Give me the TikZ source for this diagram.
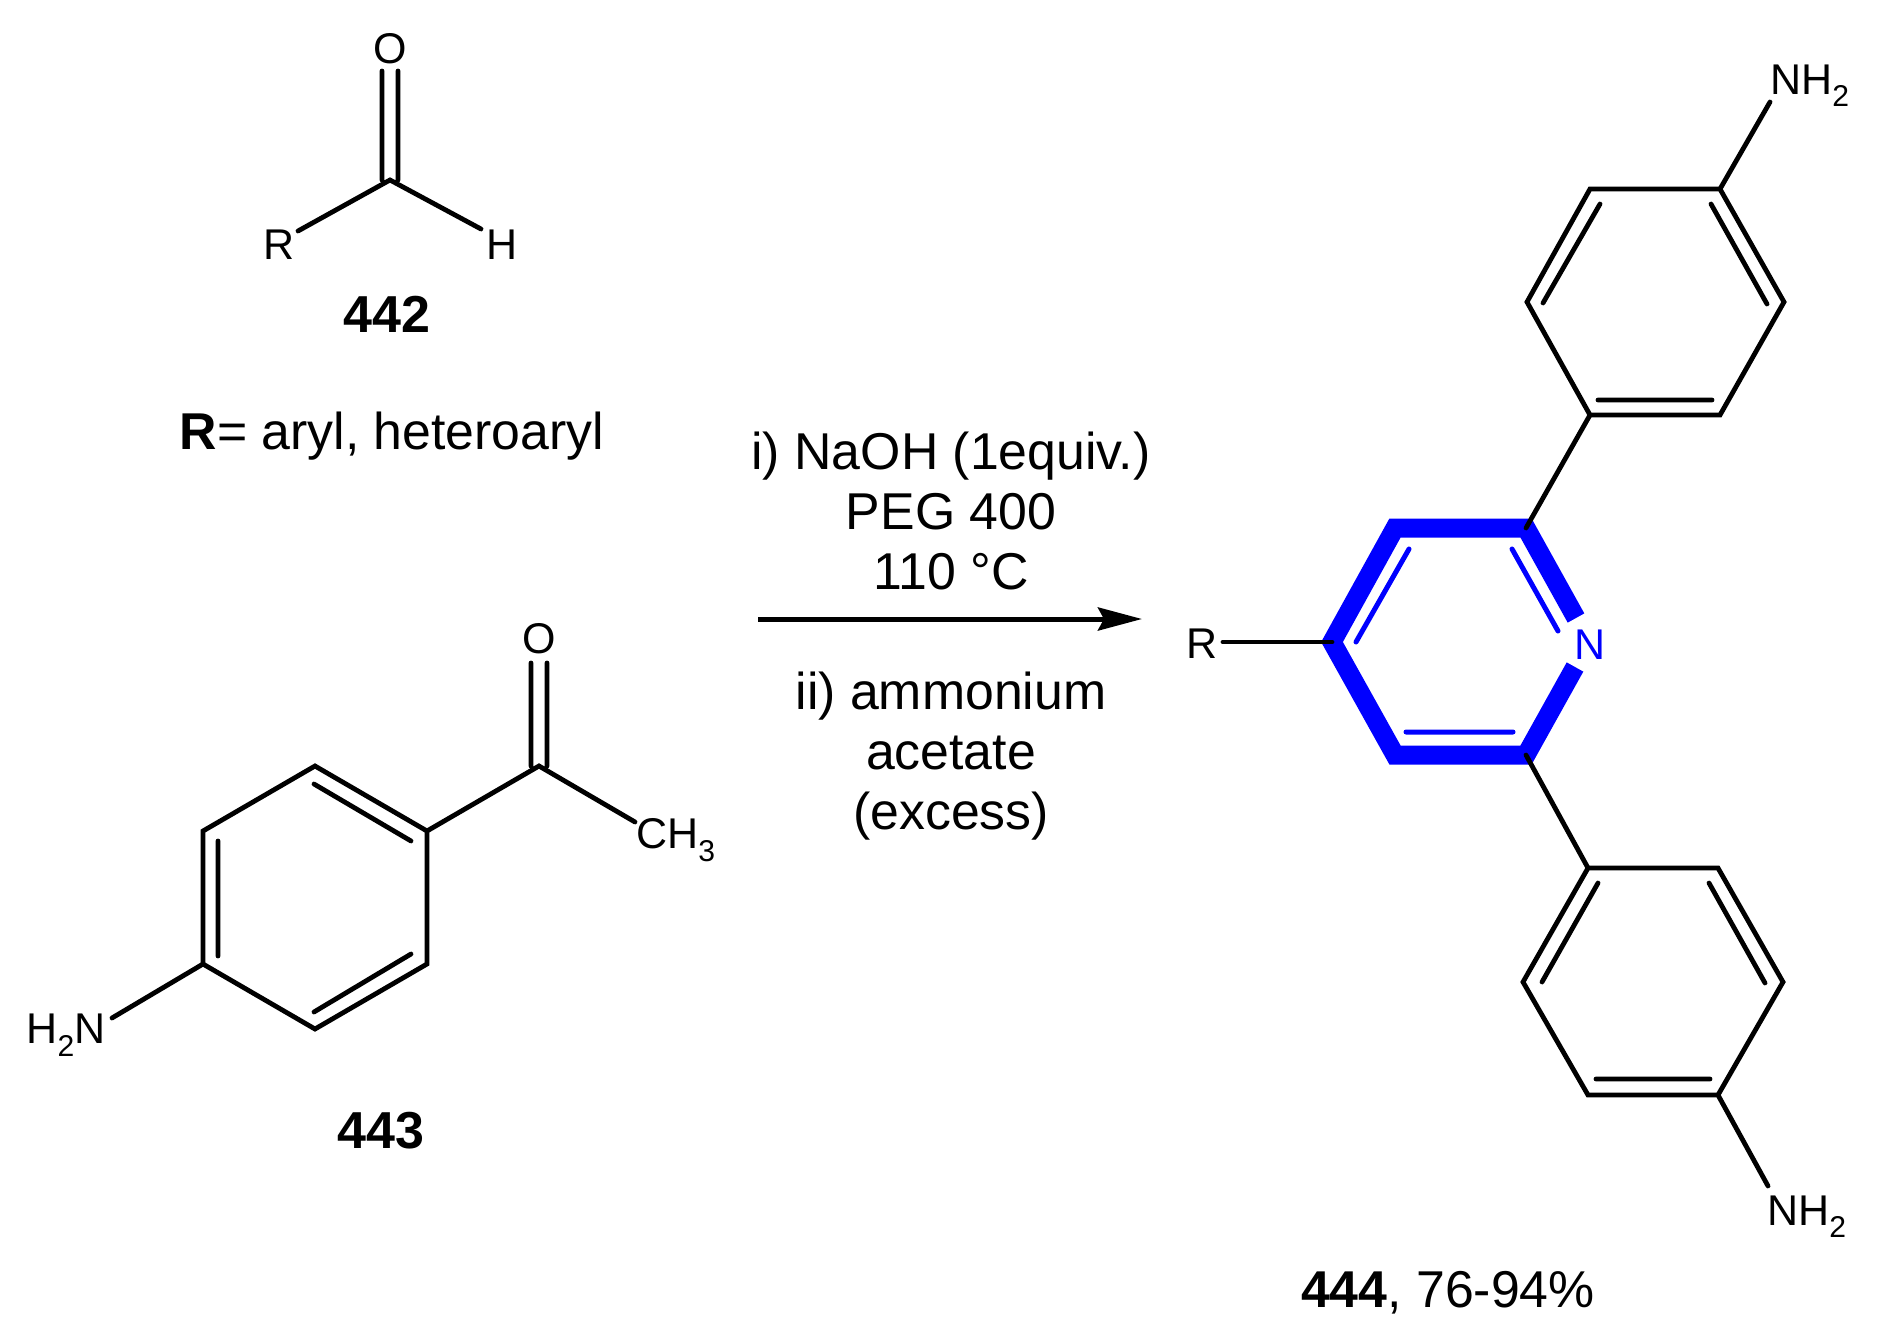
\documentclass[tikz,border=0pt]{standalone}
\usepackage{fontspec}
\setmainfont{Liberation Sans}
\usetikzlibrary{arrows.meta}
\tikzset{
  bondline/.style={line width=4.8pt,line cap=round,line join=miter,black},
  boldring/.style={line width=19pt,line cap=butt,line join=miter,color=ringblue},
  thinblue/.style={line width=5pt,line cap=round,color=ringblue},
  atomlabel/.style={inner sep=0pt,font=\fontsize{43}{50}\selectfont},
  textlabel/.style={inner sep=0pt,font=\fontsize{51.8}{60}\selectfont,align=center},
  bignum/.style={inner sep=0pt,font=\fontsize{52}{60}\selectfont\bfseries},
}
\definecolor{ringblue}{RGB}{0,0,255}
\begin{document}
\begin{tikzpicture}[x=1pt,y=-1pt]
\useasboundingbox (0,0) rectangle (1885,1336);
% aldehyde 442
\coordinate (ac) at (390,180);
\coordinate (ao1) at (382,71);
\coordinate (ao2) at (398,71);
\coordinate (ac1) at (382,180);
\coordinate (ac2) at (398,180);
\coordinate (ar) at (298,231);
\coordinate (ah) at (481,229);
\node[atomlabel] (lO1) at (390,49) {O};
\node[atomlabel] (lR1) at (279,245) {R};
\node[atomlabel] (lH1) at (502,245) {H};
\draw[bondline] (ao1) -- (ac1) (ao2) -- (ac2) (ar) -- (ac) -- (ah);
\node[bignum] (n442) at (387,314) {442};
\node[textlabel] (rdef) at (392,436) {\textbf{R}= aryl, heteroaryl};
% 443
\coordinate (b1) at (315,766);
\coordinate (b2) at (427,831);
\coordinate (b3) at (427,964);
\coordinate (b4) at (315,1029);
\coordinate (b5) at (203,964);
\coordinate (b6) at (203,831);
\coordinate (bc) at (539,766);
\coordinate (bo1) at (531,663);
\coordinate (bo2) at (547,663);
\coordinate (bc1) at (531,766);
\coordinate (bc2) at (547,766);
\coordinate (bme) at (635,822);
\coordinate (bn) at (112,1018);
\draw[bondline] (b1) -- (b2) -- (b3) -- (b4) -- (b5) -- (b6) -- cycle;
\draw[bondline] (314,784) -- (411,841) (218,841) -- (218,956) (411,954) -- (314,1012);
\draw[bondline] (b2) -- (bc) -- (bme) (bo1) -- (bc1) (bo2) -- (bc2) (b5) -- (bn);
\node[atomlabel] (lO2) at (539,639) {O};
\node[atomlabel,anchor=west] (lCH3) at (636,840) {CH\textsubscript{3}};
\node[atomlabel,anchor=east] (lH2N) at (106,1035) {H\textsubscript{2}N};
\node[bignum] (n443) at (381,1131) {443};
% arrow and conditions
\coordinate (arA) at (758,619);
\coordinate (arB) at (1142,619);
\draw[line width=5pt,-{Stealth[length=44pt,width=23pt,inset=6pt]}] (arA) -- (arB);
\node[textlabel] (c1) at (951,511) {i) NaOH (1equiv.)\\PEG 400\\110 °C};
\node[textlabel] (c2) at (951,756) {ii) ammonium\\acetate\\(excess)};
% pyridine
\coordinate (p1) at (1332,642);
\coordinate (p2) at (1395,528);
\coordinate (p3) at (1526,528);
\coordinate (p4) at (1576,618);
\coordinate (p5) at (1575,667);
\coordinate (p6) at (1526,755);
\coordinate (p7) at (1395,755);
\draw[boldring] (p4) -- (p3) -- (p2) -- (p1) -- (p7) -- (p6) -- (p5);
\draw[thinblue] (1409,549) -- (1356,642) (1512,549) -- (1558,631) (1406,732) -- (1513,732);
\node[atomlabel,text=ringblue] (lN) at (1590,645) {N};
\node[atomlabel] (lR2) at (1202,644) {R};
\coordinate (pr) at (1223,642);
\draw[bondline] (pr) -- (p1);
% top ring
\coordinate (t1) at (1590,415);
\coordinate (t2) at (1720,415);
\coordinate (t3) at (1784,302);
\coordinate (t4) at (1720,189);
\coordinate (t5) at (1590,189);
\coordinate (t6) at (1527,302);
\draw[bondline] (t1) -- (t2) -- (t3) -- (t4) -- (t5) -- (t6) -- cycle;
\draw[bondline] (1598,400) -- (1712,400) (1711,204) -- (1767,304) (1600,204) -- (1543,303);
\coordinate (tn) at (1770,102);
\draw[bondline] (p3) -- (t1) (t4) -- (tn);
\node[atomlabel,anchor=base west] (lN1) at (1770,94) {NH\textsubscript{2}};
% bottom ring
\coordinate (u1) at (1588,868);
\coordinate (u2) at (1718,868);
\coordinate (u3) at (1783,982);
\coordinate (u4) at (1718,1095);
\coordinate (u5) at (1588,1095);
\coordinate (u6) at (1523,982);
\draw[bondline] (u1) -- (u2) -- (u3) -- (u4) -- (u5) -- (u6) -- cycle;
\draw[bondline] (1596,1079) -- (1710,1079) (1709,883) -- (1765,983) (1598,883) -- (1542,982);
\coordinate (un) at (1768,1186);
\draw[bondline] (p6) -- (u1) (u4) -- (un);
\node[atomlabel,anchor=base west] (lN2) at (1767,1225) {NH\textsubscript{2}};
\node[textlabel] (n444) at (1448,1293) {\textbf{444}, 76-94\%};
\end{tikzpicture}
\end{document}
